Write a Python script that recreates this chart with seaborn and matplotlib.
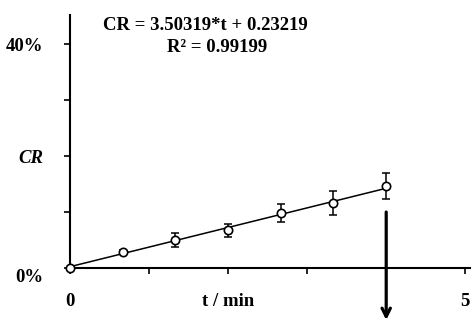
import matplotlib
matplotlib.use('Agg')
import numpy as np
import pandas as pd
import matplotlib.pyplot as plt
import matplotlib.transforms as mtransforms
import seaborn as sns

# data (CR in %)
t_min = [0, 0.667, 1.333, 2.0, 2.667, 3.333, 4.0]
cr_pct = [0.0, 2.9, 5.0, 6.7, 9.8, 11.6, 14.6]
cr_err = [0.2, 0.4, 1.3, 1.1, 1.6, 2.2, 2.3]
slope = 3.50319
intercept = 0.23219
r2 = 0.99199

yticks = [0, 10, 20, 30, 40]
ylabels = ['0%', '', 'CR', '', '40%']
xticks = [0, 1, 2, 3, 4, 5]
xlabels = ['0', '', 't / min', '', '', '5']

sns.set_style('ticks')
plt.rcParams['font.family'] = ['Liberation Serif', 'DejaVu Serif']
plt.rcParams['font.weight'] = 'bold'
plt.rcParams['text.color'] = 'black'

df = pd.DataFrame({'t': t_min, 'CR': cr_pct, 'err': cr_err})
fit = pd.DataFrame({'t': [0, 4.0]})
fit['CR'] = slope * fit['t'] + intercept

fig = plt.figure(figsize=(4.72, 3.21), dpi=100)
ax = fig.add_axes([70 / 472, 53 / 321, 400 / 472, 253 / 321])

sns.lineplot(data=fit, x='t', y='CR', color='black', linewidth=1.1, ax=ax)
ax.errorbar(df['t'], df['CR'], yerr=df['err'], fmt='none', ecolor='black',
            elinewidth=1.1, capsize=3, capthick=1.1, zorder=3)
sns.scatterplot(data=df, x='t', y='CR', marker='o', s=36, facecolor='white',
                edgecolor='black', linewidth=1.2, zorder=4, ax=ax, clip_on=False)

ax.set_xlim(0, 5.06)
ax.set_ylim(0, 45.2)
ax.set_xticks(xticks)
ax.set_xticklabels(xlabels)
ax.set_yticks(yticks)
ax.set_yticklabels(ylabels)
ax.set_xlabel('')
ax.set_ylabel('')
sns.despine(ax=ax)
for s in ['left', 'bottom']:
    ax.spines[s].set_linewidth(1.5)
    ax.spines[s].set_color('black')
ax.tick_params(axis='both', colors='black', labelcolor='black', width=1.2,
               length=4, labelsize=13.5)
ax.tick_params(axis='x', pad=14)
ax.tick_params(axis='y', pad=15)
for lab in ax.get_xticklabels() + ax.get_yticklabels():
    lab.set_fontweight('bold')
ax.get_yticklabels()[2].set_fontstyle('italic')
ax.get_yticklabels()[0].set_transform(
    ax.get_yticklabels()[0].get_transform()
    + mtransforms.ScaledTranslation(0, -7 / 100, fig.dpi_scale_trans))

ax.text(0.338, 0.96, f'CR = {slope}*t + {intercept}', transform=ax.transAxes,
        ha='center', va='center', fontsize=13.5, fontweight='bold', color='black')
ax.text(0.368, 0.87, f'R\u00b2 = {r2}', transform=ax.transAxes,
        ha='center', va='center', fontsize=13.5, fontweight='bold', color='black')

ax.annotate('', xy=(4.0, -9.3), xytext=(4.0, 10.0), annotation_clip=False,
            arrowprops=dict(arrowstyle='->, head_length=0.6, head_width=0.3',
                            color='black', lw=2.3, shrinkA=0, shrinkB=0))

fig.savefig('out.png', dpi=100)
